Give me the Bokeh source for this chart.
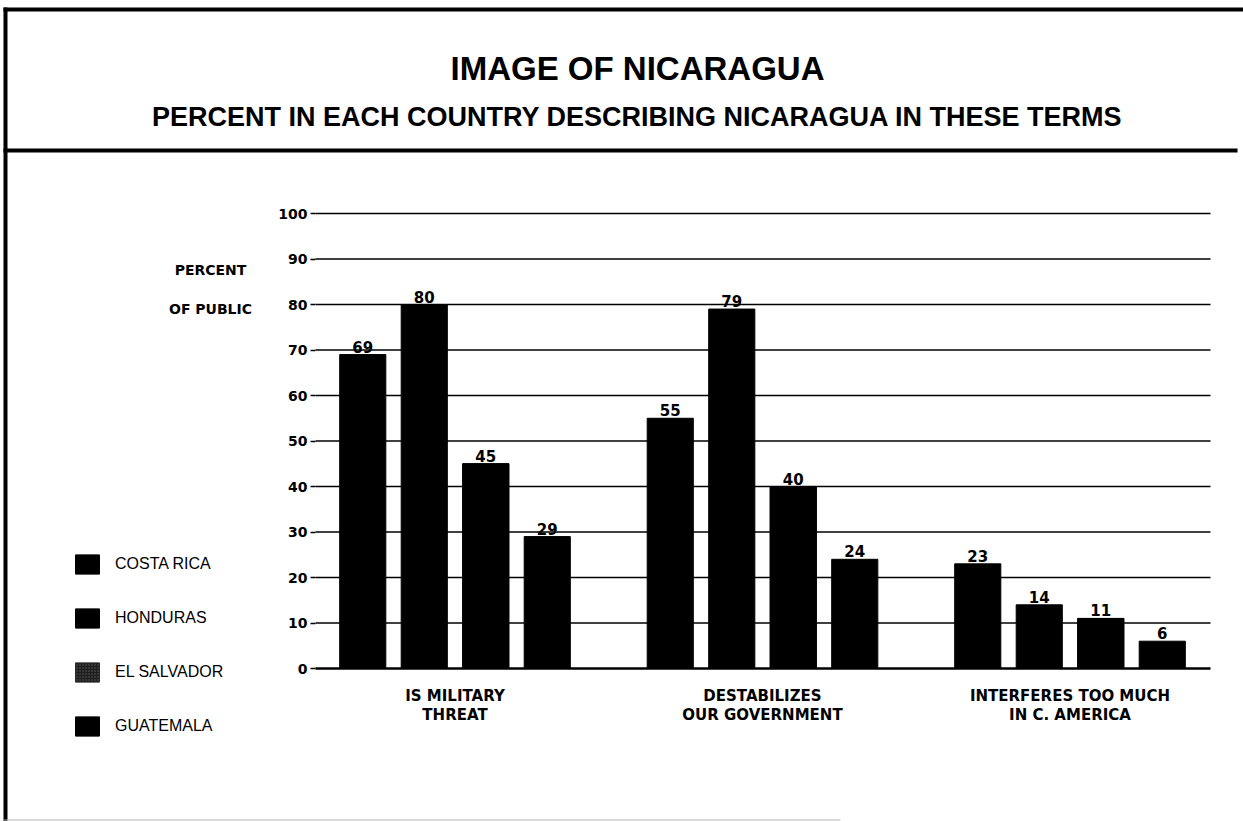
from bokeh.plotting import figure
from bokeh.models import (Range1d, FixedTicker, Label, Legend, LegendItem,
                          BoxAnnotation, ColumnDataSource)
from bokeh.core.properties import value
from bokeh.embed import file_html
from bokeh.resources import INLINE

# ---- data -------------------------------------------------------------
categories = ["IS MILITARY\nTHREAT",
              "DESTABILIZES\nOUR GOVERNMENT",
              "INTERFERES TOO MUCH\nIN C. AMERICA"]
countries = ["COSTA RICA", "HONDURAS", "EL SALVADOR", "GUATEMALA"]
costa_rica = [69, 55, 23]
honduras = [80, 79, 14]
el_salvador = [45, 40, 11]
guatemala = [29, 24, 6]
series = [costa_rica, honduras, el_salvador, guatemala]
y_ticks = list(range(0, 101, 10))

title_text = "IMAGE OF NICARAGUA"
subtitle_text = "PERCENT IN EACH COUNTRY DESCRIBING NICARAGUA IN THESE TERMS"

# ---- layout (canvas pixels, origin top-left) ---------------------------
W, H = 1243, 821
PLOT_L, PLOT_R = 315, 1210      # extent of the gridlines
Y0_PX, Y100_PX = 668, 213       # canvas rows of 0 % and 100 %
pitch_px = 61.5                 # distance between neighbouring bars
first_center_px = 454.5         # centre of the first group

group_step = 5.0                # distance between group centres (pitches)
offsets = [-1.5, -0.5, 0.5, 1.5]
bar_w = 0.75

px_per_pct = (Y0_PX - Y100_PX) / 100.0
x_start = -first_center_px / pitch_px
x_end = x_start + W / pitch_px
y_start = -(H - Y0_PX) / px_per_pct
y_end = Y0_PX / px_per_pct


def data_x(cx):
    return (cx - first_center_px) / pitch_px


BOLD = "DejaVu Sans"
PLAIN = "Liberation Sans"

p = figure(width=W, height=H, output_backend="svg", toolbar_location=None,
           x_range=Range1d(x_start, x_end), y_range=Range1d(y_start, y_end),
           min_border=0, title=None)
p.outline_line_color = None
p.background_fill_color = "white"
p.border_fill_color = "white"
p.xgrid.visible = False
p.ygrid.visible = False

# horizontal rules at every 10 %
grid_src = ColumnDataSource(dict(y=y_ticks,
                                 x0=[data_x(PLOT_L)] * len(y_ticks),
                                 x1=[data_x(PLOT_R)] * len(y_ticks),
                                 w=[2.6 if t == 0 else 1.6 for t in y_ticks]))
p.segment(x0="x0", x1="x1", y0="y", y1="y", source=grid_src,
          line_color="black", line_width="w", level="underlay")

# y axis pinned to the left end of the rules
p.yaxis.fixed_location = data_x(PLOT_L)
p.yaxis.ticker = FixedTicker(ticks=y_ticks)
p.yaxis.axis_line_color = None
p.yaxis.major_tick_out = 5
p.yaxis.major_tick_in = 0
p.yaxis.major_tick_line_color = "black"
p.yaxis.major_tick_line_width = 1.5
p.yaxis.minor_tick_line_color = None
p.yaxis.major_label_standoff = 3
p.yaxis.major_label_text_font = BOLD
p.yaxis.major_label_text_font_style = "bold"
p.yaxis.major_label_text_font_size = "14px"
p.yaxis.major_label_text_color = "black"

# x axis with the category names, pinned to the 0 % rule
centers = [i * group_step for i in range(len(categories))]
p.xaxis.fixed_location = 0
p.xaxis.ticker = FixedTicker(ticks=centers)
p.xaxis.major_label_overrides = {c: lab for c, lab in zip(centers, categories)}
p.xaxis.axis_line_color = None
p.xaxis.major_tick_line_color = None
p.xaxis.major_tick_out = 0
p.xaxis.major_tick_in = 0
p.xaxis.minor_tick_line_color = None
p.xaxis.major_label_standoff = 18
p.xaxis.major_label_text_font = BOLD
p.xaxis.major_label_text_font_style = "bold"
p.xaxis.major_label_text_font_size = "15px"
p.xaxis.major_label_text_color = "black"
p.xaxis.major_label_text_line_height = 1.1

# dotted dark-grey El Salvador bars sit underneath the black ones; they only
# supply the dotted key in the legend
salvador_src = ColumnDataSource(dict(x=[c + offsets[2] for c in centers],
                                     top=el_salvador))
salvador_key = p.vbar(x="x", top="top", width=bar_w, source=salvador_src,
                      fill_color="#1e1e1e", line_color="#2a2a2a",
                      hatch_pattern="dot", hatch_color="#5c5c5c",
                      hatch_scale=3)

# bars and value labels
bar_renderers = []
for off, vals in zip(offsets, series):
    xs = [c + off for c in centers]
    src = ColumnDataSource(dict(x=xs, top=vals, lab=[str(v) for v in vals]))
    r = p.vbar(x="x", top="top", width=bar_w, source=src,
               fill_color="black", line_color="black", line_width=1)
    bar_renderers.append(r)
    p.text(x="x", y="top", text="lab", source=src, y_offset=-2,
           text_align="center", text_baseline="bottom",
           text_font=value(BOLD), text_font_style="bold",
           text_font_size="15px", text_color="black")

key_renderers = [bar_renderers[0], bar_renderers[1], salvador_key,
                 bar_renderers[3]]
legend = Legend(items=[LegendItem(label=n, renderers=[r])
                       for n, r in zip(countries, key_renderers)],
                location=(72, H - 738),
                glyph_width=30, glyph_height=24, spacing=30,
                label_standoff=13, padding=0, margin=0,
                border_line_color=None, background_fill_alpha=0,
                label_text_font=PLAIN, label_text_font_size="16px",
                label_text_color="black", label_text_baseline="middle")
p.add_layout(legend, "center")


def sy(cy):
    return H - cy


# titles and side captions
p.add_layout(Label(x=637, y=sy(68), x_units="screen", y_units="screen",
                   text=title_text, text_align="center",
                   text_baseline="middle", text_font=PLAIN,
                   text_font_style="bold", text_font_size="33px",
                   text_color="black"))
p.add_layout(Label(x=637, y=sy(116), x_units="screen", y_units="screen",
                   text=subtitle_text, text_align="center",
                   text_baseline="middle", text_font=PLAIN,
                   text_font_style="bold", text_font_size="27px",
                   text_color="black"))
for txt, cy in (("PERCENT", 269), ("OF PUBLIC", 308)):
    p.add_layout(Label(x=210, y=sy(cy), x_units="screen",
                       y_units="screen", text=txt, text_align="center",
                       text_baseline="middle", text_font=BOLD,
                       text_font_style="bold", text_font_size="14px",
                       text_color="black"))

# page frame and the rule under the titles
for (l, r, t, b, col) in ((3, W, 7, 11, "black"),
                          (3, 7, 7, H, "black"),
                          (3, 1237, 148, 152, "black"),
                          (3, 840, 819, 820, "#b5b5b5")):
    p.add_layout(BoxAnnotation(left=l, right=r, top=sy(t), bottom=sy(b),
                               left_units="screen", right_units="screen",
                               top_units="screen", bottom_units="screen",
                               fill_color=col, fill_alpha=1, line_color=None,
                               level="overlay"))

open("out.html", "w").write(file_html(p, INLINE))
